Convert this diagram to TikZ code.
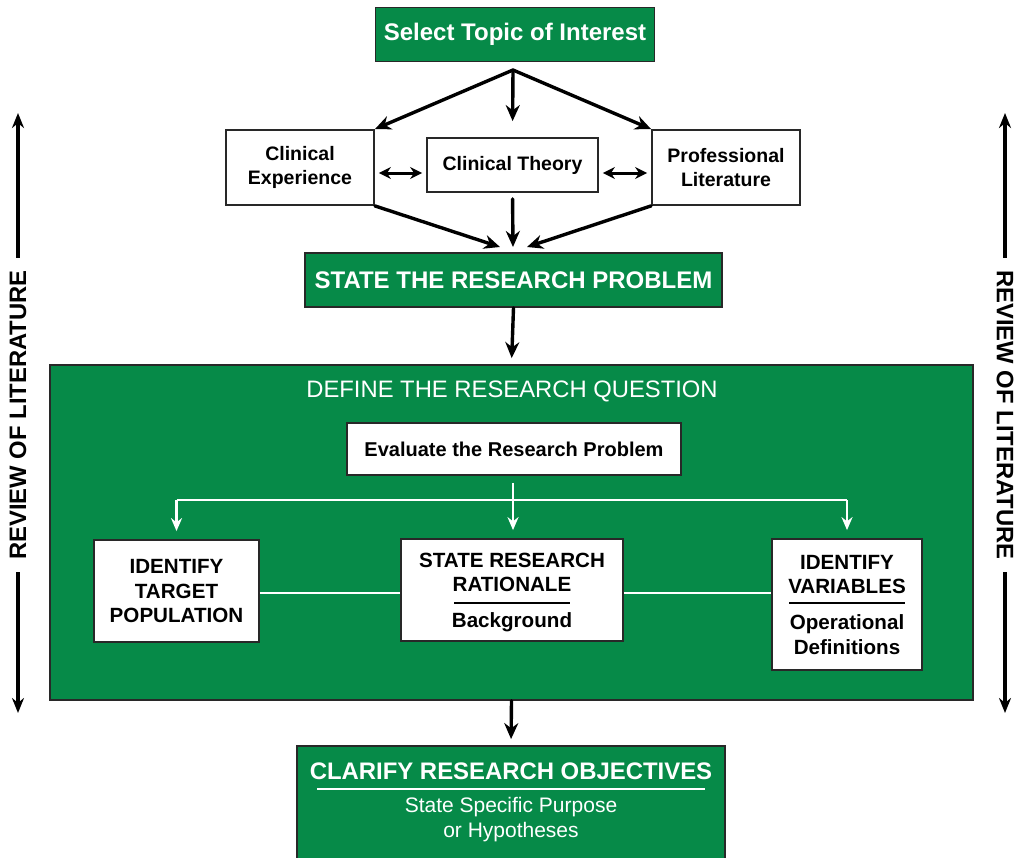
\documentclass[tikz,border=0pt]{standalone}
\usepackage{fontspec}
\setmainfont{Liberation Sans}
\usetikzlibrary{arrows.meta,calc}
\definecolor{dgreen}{RGB}{6,138,72}
\definecolor{edge}{RGB}{40,40,40}
\newcommand{\fs}[1]{\fontsize{#1}{1.2\dimexpr #1pt\relax}\selectfont}
\begin{document}
\begin{tikzpicture}[x=1pt,y=-1pt,
  box/.style={draw=edge,line width=1.8pt,align=center,inner sep=0pt},
  gbox/.style={box,fill=dgreen,text=white},
  wbox/.style={box,fill=white,text=black},
  arr/.style={draw=black,line width=3.4pt,line cap=round,-{Stealth[length=16pt,width=14pt]}},
  darr/.style={draw=black,line width=3pt,{Stealth[length=12pt,width=12pt]}-{Stealth[length=12pt,width=12pt]}},
  warr/.style={draw=white,line width=2.4pt,-{Stealth[length=13pt,width=11pt]}},
  wline/.style={draw=white,line width=2.4pt},
  sarr/.style={draw=black,line width=3.2pt,-{Stealth[length=15pt,width=12pt]}},
]
\clip (0,0) rectangle (1023,857);
\fill[white] (0,0) rectangle (1023,857);

% upper part of the chart
\node[gbox,minimum width=279pt,minimum height=54pt,font=\bfseries\fs{24}] (top) at (515,34.5) {Select Topic of Interest};
\node[wbox,minimum width=148pt,minimum height=75pt,font=\bfseries\fs{19.5}] (ce) at (300,167.5) {Clinical\\Experience};
\node[wbox,minimum width=171pt,minimum height=54pt,font=\bfseries\fs{19.5}] (ct) at (512.5,165) {Clinical Theory};
\node[wbox,minimum width=148pt,minimum height=75pt,font=\bfseries\fs{19.5}] (pl) at (726,167.5) {Professional\\Literature};
\node[gbox,minimum width=417pt,minimum height=54pt,font=\bfseries\fs{24}] (srp) at (513.5,280) {STATE THE RESEARCH PROBLEM};

\coordinate (apex) at (513,70);
\coordinate (m1) at (500,247);
\coordinate (m2) at (513,247);
\coordinate (m3) at (527,247);

\draw[arr] (apex) -- (ce.north east);
\draw[arr,shorten >=16pt] (apex) -- (ct.north);
\draw[arr] (apex) -- (pl.north west);
\draw[darr,shorten <=4pt,shorten >=4pt] (ce.east |- 0,173) -- (ct.west |- 0,173);
\draw[darr,shorten <=4pt,shorten >=4pt] (ct.east |- 0,173) -- (pl.west |- 0,173);
\draw[arr] (ce.south east) -- (m1);
\draw[arr,shorten <=6pt] (ct.south) -- (m2);
\draw[arr] (pl.south west) -- (m3);

% research question block
\node[gbox,minimum width=923pt,minimum height=335pt] (drq) at (511.5,532.5) {};
\node[text=white,font=\fs{23.8}] (drqt) at (512,391) {DEFINE THE RESEARCH QUESTION};
\node[wbox,minimum width=334pt,minimum height=52pt,font=\bfseries\fs{20}] (ev) at (514,449) {Evaluate the Research Problem};
\node[wbox,minimum width=165pt,minimum height=102pt,font=\bfseries\fs{20.6},text depth=0pt] (itp) at (176.5,591) {IDENTIFY\\TARGET\\POPULATION};
\node[wbox,minimum width=222pt,minimum height=102pt,font=\bfseries\fs{20.6},text depth=0pt] (srr) at (512,590)
  {STATE RESEARCH\\RATIONALE\\[-13pt]\rule{116pt}{1.6pt}\\[-1pt]Background};
\node[wbox,minimum width=150pt,minimum height=131pt,font=\bfseries\fs{20.6},text depth=0pt] (iv) at (847,604.5)
  {IDENTIFY\\VARIABLES\\[-15pt]\rule{116pt}{1.6pt}\\[1pt]Operational\\Definitions};

\coordinate (split) at (513,500);
\draw[warr,shorten <=7pt,shorten >=8pt] (ev.south -| split) -- (srr.north -| split);
\draw[wline] (split -| itp.north) -- (split -| iv.north);
\draw[warr,shorten >=8pt] (split -| itp.north) -- (itp.north);
\draw[warr,shorten >=8pt] (split -| iv.north) -- (iv.north);
\draw[wline] (itp.east |- 0,593) -- (srr.west |- 0,593);
\draw[wline] (srr.east |- 0,593) -- (iv.west |- 0,593);

\draw[arr,shorten >=6pt] (srp.south) -- (drq.north);

% objectives block
\node[gbox,minimum width=428pt,minimum height=140pt] (cro) at (511,816) {};
\node[anchor=north,text=white,align=center,font=\fs{21}] (crot) at ([yshift=-14pt]cro.north)
  {{\bfseries\fs{23.9}CLARIFY RESEARCH OBJECTIVES}\\[-15pt]\textcolor{white}{\rule{388pt}{2pt}}\\[-2pt]State Specific Purpose\\or Hypotheses};
\draw[arr,shorten >=6pt] (drq.south) -- (cro.north);

% review of literature, both sides
\node[rotate=90,font=\bfseries\fs{23.8}] (revl) at (18,415) {REVIEW OF LITERATURE};
\coordinate (lt) at (18,113);
\coordinate (lb) at (18,713);
\draw[sarr,shorten <=9pt] (revl.east) -- (lt);
\draw[sarr,shorten <=9pt] (revl.west) -- (lb);
\node[rotate=-90,font=\bfseries\fs{23.8}] (revr) at (1005,415) {REVIEW OF LITERATURE};
\coordinate (rt) at (1005,113);
\coordinate (rb) at (1005,713);
\draw[sarr,shorten <=9pt] (revr.west) -- (rt);
\draw[sarr,shorten <=9pt] (revr.east) -- (rb);
\end{tikzpicture}
\end{document}
